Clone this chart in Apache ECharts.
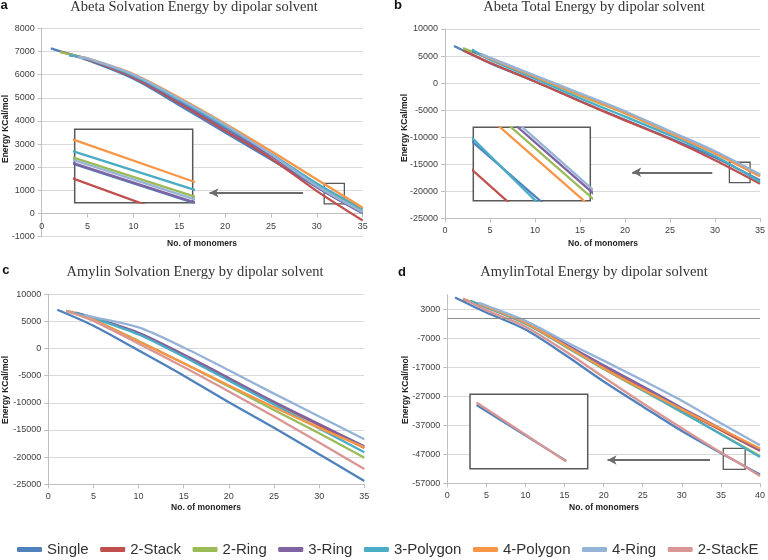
<!DOCTYPE html>
<html><head><meta charset="utf-8">
<script src="https://cdn.jsdelivr.net/npm/echarts@6/dist/echarts.min.js"></script>
<style>html,body{margin:0;padding:0;background:#fff}#c{width:768px;height:560px}</style>
</head><body><div id="c"></div>
<script>
// ---------- names / colours ----------
const seriesNames = ['Single','2-Stack','2-Ring','3-Ring','3-Polygon','4-Polygon','4-Ring','2-StackE'];
const seriesColors = ['#4F81BD','#C0504D','#9BBB59','#8064A2','#4BACC6','#F79646','#95B3D7','#DA9694'];

// ---------- panel a: Abeta Solvation Energy ----------
const aSingle   = [[1,7130],[5,6620],[10,5820],[15,4680],[20,3500],[25,2330],[30,1140],[35,10]];
const a2Stack   = [[2,6990],[5,6660],[10,5880],[15,4760],[20,3580],[25,2380],[30,970],[35,-300]];
const a2Ring    = [[2,6970],[5,6680],[10,5950],[15,4870],[20,3720],[25,2530],[30,1220],[35,100]];
const a3Ring    = [[3,6830],[5,6680],[10,5930],[15,4840],[20,3680],[25,2490],[30,1150],[35,20]];
const a3Polygon = [[3,6840],[5,6690],[10,5960],[15,4900],[20,3760],[25,2580],[30,1300],[35,190]];
const a4Polygon = [[4,6760],[5,6700],[10,6020],[15,5000],[20,3880],[25,2700],[30,1470],[35,250]];
const a4Ring    = [[4,6750],[5,6700],[10,6000],[15,4960],[20,3830],[25,2560],[30,1190],[35,60]];

// ---------- panel b: Abeta Total Energy ----------
const bSingle   = [[1,6840],[5,3700],[10,300],[15,-3300],[20,-6800],[25,-10200],[30,-13750],[35,-17970]];
const b2Stack   = [[2,6100],[5,3750],[10,300],[15,-3350],[20,-6900],[25,-10350],[30,-14250],[35,-18590]];
const b2Ring    = [[2,6470],[5,4500],[10,1150],[15,-2350],[20,-5600],[25,-9150],[30,-12820],[35,-17060]];
const b3Ring    = [[3,5900],[5,4600],[10,1300],[15,-2050],[20,-5350],[25,-9000],[30,-12700],[35,-16955]];
const b3Polygon = [[3,6200],[5,4300],[10,800],[15,-2800],[20,-6200],[25,-9650],[30,-13500],[35,-18300]];
const b4Polygon = [[4,5300],[5,4550],[10,1200],[15,-2200],[20,-5500],[25,-9200],[30,-13000],[35,-17250]];
const b4Ring    = [[4,5400],[5,4700],[10,1400],[15,-1900],[20,-5200],[25,-8900],[30,-12600],[35,-16900]];

// ---------- panel c: Amylin Solvation Energy ----------
const cSingle   = [[1,7150],[5,4200],[10,-350],[15,-5000],[20,-9900],[25,-14600],[30,-19450],[35,-24400]];
const c2Stack   = [[2,6950],[5,5650],[10,2800],[15,-1200],[20,-5550],[25,-9950],[30,-14100],[35,-18300]];
const c2Ring    = [[2,6950],[5,5300],[10,1400],[15,-2700],[20,-7000],[25,-11300],[30,-15600],[35,-20100]];
const c3Ring    = [[3,6650],[5,5700],[10,2900],[15,-1100],[20,-5400],[25,-9800],[30,-13900],[35,-18000]];
const c3Polygon = [[3,6600],[5,5600],[10,2600],[15,-1500],[20,-5900],[25,-10300],[30,-14700],[35,-19100]];
const c4Polygon = [[4,6000],[5,5300],[10,1300],[15,-2700],[20,-6800],[25,-10800],[30,-14600],[35,-18200]];
const c4Ring    = [[4,6200],[5,5800],[10,3900],[15,200],[20,-4000],[25,-8300],[30,-12500],[35,-16700]];
const c2StackE  = [[2,6950],[5,5100],[10,900],[15,-3400],[20,-7900],[25,-12500],[30,-17300],[35,-22200]];

// ---------- panel d: Amylin Total Energy ----------
const dSingle   = [[1,7100],[5,1900],[10,-4000],[15,-12600],[20,-21900],[25,-30500],[30,-39000],[35,-46600],[38,-51050],[40,-54000]];
const d2Stack   = [[2,6400],[5,3800],[10,-1700],[15,-9200],[20,-17000],[25,-24300],[30,-31700],[35,-38700],[40,-45800]];
const d2Ring    = [[2,6600],[5,3600],[10,-2000],[15,-9700],[20,-17600],[25,-25000],[30,-32500],[35,-40000],[40,-47600]];
const d3Ring    = [[3,5500],[5,4000],[10,-1500],[15,-8800],[20,-16300],[25,-23500],[30,-31000],[35,-38200],[40,-45500]];
const d3Polygon = [[3,5900],[5,3700],[10,-1900],[15,-9500],[20,-17400],[25,-24800],[30,-32400],[35,-40100],[40,-47900]];
const d4Polygon = [[4,5000],[5,4000],[10,-1600],[15,-9300],[20,-17300],[25,-24600],[30,-31500],[35,-38300],[40,-45000]];
const d4Ring    = [[4,5200],[5,4300],[10,-1000],[15,-8000],[20,-14700],[25,-21500],[30,-28500],[35,-36300],[40,-43900]];
const d2StackE  = [[2,6700],[5,2700],[10,-3000],[15,-11300],[20,-20400],[25,-29400],[30,-38000],[35,-46400],[38,-51100],[40,-54500]];

// ---------- axes ----------
const xTicksAC = {min:0, max:35, interval:5};
const xTicksD  = {min:0, max:40, interval:5};
const yTicksA  = {min:-1000, max:8000, interval:1000};
const yTicksB  = {min:-25000, max:10000, interval:5000};
const yTicksC  = {min:-25000, max:10000, interval:5000};
const yTicksD  = {min:-57000, max:8000, interval:10000};

// zoom boxes / inset windows / arrows (data coordinates)
const boxA = [[30.8,1300],[33.0,420]];
const boxB = [[31.6,-14640],[33.9,-18410]];
const boxD = [[35.3,-44930],[38.1,-52170]];
const insetA = {x:[30.8,33.0], y:[460,1414]};
const insetB = {x:[31.6,33.9], y:[-16208,-14808]};
const insetD = {x:[34.78,38.72], y:[-51672,-45754]};
const arrowA = [[28.5,894],[18.3,894]];
const arrowB = [[29.7,-16490],[20.8,-16490]];
const arrowD = [[33.6,-48970],[20.5,-48970]];

const titles = ['Abeta Solvation Energy by dipolar solvent','Abeta Total Energy by dipolar solvent',
                'Amylin Solvation Energy by dipolar solvent','AmylinTotal Energy by dipolar solvent'];
const panelLetters = ['a','b','c','d'];
const xName = 'No. of monomers';
const yName = 'Energy KCal/mol';

const panels = [
  {data:[aSingle,a2Stack,a2Ring,a3Ring,a3Polygon,a4Polygon,a4Ring], xt:xTicksAC, yt:yTicksA, atZero:true},
  {data:[bSingle,b2Stack,b2Ring,b3Ring,b3Polygon,b4Polygon,b4Ring], xt:xTicksAC, yt:yTicksB, atZero:false},
  {data:[cSingle,c2Stack,c2Ring,c3Ring,c3Polygon,c4Polygon,c4Ring,c2StackE], xt:xTicksAC, yt:yTicksC, atZero:false},
  {data:[dSingle,d2Stack,d2Ring,d3Ring,d3Polygon,d4Polygon,d4Ring,d2StackE], xt:xTicksD, yt:yTicksD, atZero:false}
];

// ---------- layout ----------
const gridPos = [
  {left:41.7, top:28.3, width:321, height:208.4},
  {left:445, top:29, width:316.7, height:189.3},
  {left:48.3, top:294.3, width:316, height:190},
  {left:447.3, top:294.8, width:313.4, height:188.5}
];
const insetPos = [
  {left:74.7, top:129.3, width:118, height:73.4},
  {left:473.3, top:127.3, width:117, height:73.4},
  {left:470, top:394.3, width:117.7, height:74.4}
];
const tickFont = {fontSize:9, fontFamily:'"Liberation Sans", Arial, sans-serif', color:'#404040'};
const fmt = v => String(v);

const grid = [], xAxis = [], yAxis = [], series = [];
panels.forEach((p, i) => {
  grid.push(Object.assign({}, gridPos[i]));
  // panel a: horizontal axis crosses at y = 0
  const zeroOffset = p.atZero ? -(gridPos[i].height * (0 - p.yt.min) / (p.yt.max - p.yt.min)) : 0;
  xAxis.push({type:'value', gridIndex:i, min:p.xt.min, max:p.xt.max, interval:p.xt.interval,
    offset:zeroOffset,
    axisLine:{onZero:false, lineStyle:{color:'#bfbfbf', width:1}},
    axisTick:{show:true, length:4, lineStyle:{color:'#bfbfbf'}},
    axisLabel:Object.assign({margin:8, formatter:fmt}, tickFont),
    splitLine:{show:false}});
  const ya = {type:'value', gridIndex:i, min:p.yt.min, max:p.yt.max, interval:p.yt.interval,
    axisLine:{show:true, lineStyle:{color:'#bfbfbf', width:1}},
    axisTick:{show:true, length:4, lineStyle:{color:'#bfbfbf'}},
    axisLabel:Object.assign({margin:7, formatter:fmt}, tickFont),
    splitLine:{show:true, lineStyle:{color:'#d9d9d9', width:1}}};
  if (i === 3) { ya.axisLabel.showMaxLabel = false; ya.splitLine.showMaxLine = false; }
  yAxis.push(ya);
  p.data.forEach((d, k) => {
    series.push({type:'line', name:seriesNames[k], xAxisIndex:i, yAxisIndex:i, data:d,
      symbol:'none', showSymbol:false, smooth:0.3, silent:true, animation:false, z:2,
      lineStyle:{width:2.3, color:seriesColors[k]}, itemStyle:{color:seriesColors[k]}});
  });
});

// markers: zoom box + arrow on panels a,b,d ; zero line on d
const markerDefs = [{panel:0, box:boxA, arrow:arrowA}, {panel:1, box:boxB, arrow:arrowB}, {panel:3, box:boxD, arrow:arrowD}];
markerDefs.forEach(m => {
  series.push({type:'line', name:'__m'+m.panel, xAxisIndex:m.panel, yAxisIndex:m.panel, data:[],
    symbol:'none', silent:true, animation:false, z:3,
    markArea:{silent:true, itemStyle:{color:'rgba(0,0,0,0)', borderColor:'#595959', borderWidth:1.3},
      data:[[{coord:m.box[0]},{coord:m.box[1]}]]},
    markLine:{silent:true, animation:false, symbol:['none','arrow'], symbolSize:[7,9], label:{show:false},
      lineStyle:{color:'#6b6b6b', width:1.8, type:'solid'},
      data:[[{coord:m.arrow[0]},{coord:m.arrow[1]}]]}
  });
});
series.push({type:'line', name:'__zero', xAxisIndex:3, yAxisIndex:3, data:[], symbol:'none', silent:true, animation:false, z:1,
  markLine:{silent:true, animation:false, symbol:['none','none'], label:{show:false},
    lineStyle:{color:'#8c8c8c', width:1.2, type:'solid'}, data:[{yAxis:0}]}});

// insets
const insetDefs = [
  {src:0, win:insetA, filter:null},
  {src:1, win:insetB, filter:null},
  {src:3, win:insetD, filter:[35,38], only:[0,7]}
];
insetDefs.forEach((ins, j) => {
  const gi = 4 + j;
  grid.push(Object.assign({show:true, backgroundColor:'#fff', borderColor:'#595959', borderWidth:1.5, z:5}, insetPos[j]));
  xAxis.push({type:'value', gridIndex:gi, min:ins.win.x[0], max:ins.win.x[1], show:false, z:5});
  yAxis.push({type:'value', gridIndex:gi, min:ins.win.y[0], max:ins.win.y[1], show:false, z:5});
  panels[ins.src].data.forEach((d, k) => {
    if (ins.only && ins.only.indexOf(k) < 0) return;
    const dd = ins.filter ? d.filter(pt => pt[0] >= ins.filter[0] && pt[0] <= ins.filter[1]) : d;
    series.push({type:'line', name:seriesNames[k], xAxisIndex:gi, yAxisIndex:gi, data:dd,
      symbol:'none', showSymbol:false, smooth:false, clip:true, silent:true, animation:false, z:6,
      lineStyle:{width:2.3, color:seriesColors[k]}, itemStyle:{color:seriesColors[k]}});
  });
});

// legend
const legend = {
  left:17, top:542, data:seriesNames, icon:'roundRect', itemWidth:25, itemHeight:5, itemGap:11.5,
  selectedMode:false, padding:0,
  textStyle:{fontSize:15, fontFamily:'"Liberation Sans", Arial, sans-serif', color:'#333'}
};

// texts
const titlePos = [[194,7],[594,7],[195,272],[594,272]];
const letterPos = [[4,5],[398,5.5],[5.8,270.5],[402,272]];
const xNamePos = [[202,244],[603,244],[206,508],[604,508]];
const yNamePos = [[5.5,129],[404.5,128],[5.5,390],[405.8,390]];
const graphic = [];
titles.forEach((t, i) => graphic.push({type:'text', x:titlePos[i][0], y:titlePos[i][1], silent:true,
  style:{text:t, font:'14.5px "Liberation Serif", serif', fill:'#333', textAlign:'center', textVerticalAlign:'middle'}}));
panelLetters.forEach((t, i) => graphic.push({type:'text', x:letterPos[i][0], y:letterPos[i][1], silent:true,
  style:{text:t, font:'bold 13px "Liberation Sans", Arial, sans-serif', fill:'#111', textAlign:'center', textVerticalAlign:'middle'}}));
xNamePos.forEach(p => graphic.push({type:'text', x:p[0], y:p[1], silent:true,
  style:{text:xName, font:'bold 8.5px "Liberation Sans", Arial, sans-serif', fill:'#222', textAlign:'center', textVerticalAlign:'middle'}}));
yNamePos.forEach(p => graphic.push({type:'text', x:p[0], y:p[1], rotation:Math.PI/2, silent:true,
  style:{text:yName, font:'bold 8.5px "Liberation Sans", Arial, sans-serif', fill:'#222', textAlign:'center', textVerticalAlign:'middle'}}));

const chart = echarts.init(document.getElementById('c'), null, {renderer:'canvas'});
chart.setOption({animation:false, backgroundColor:'#fff', grid, xAxis, yAxis, series, legend, graphic});
</script></body></html>
